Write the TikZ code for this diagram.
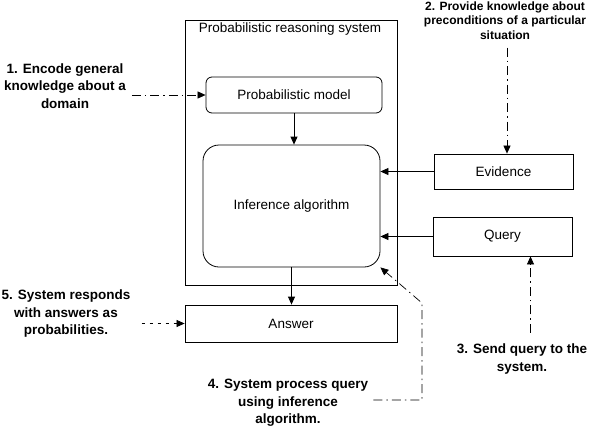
\documentclass[tikz,border=0pt]{standalone}
\usepackage{fontspec}
\setmainfont{Liberation Sans}
\usetikzlibrary{arrows.meta, positioning, calc}

\begin{document}
\begin{tikzpicture}[
    x=1pt, y=-1pt,
    box/.style={rectangle, draw, line width=0.8pt, align=center, inner sep=0pt, font=\fontsize{13.5}{15}\selectfont},
    rbox/.style={box, rounded corners=#1},
    note/.style={align=center, inner sep=3pt, font=\fontsize{13.5}{17.5}\selectfont\bfseries},
    arrow/.style={-{Triangle[length=8pt, width=7pt]}, line width=0.8pt},
    hint/.style={arrow, dash pattern=on 9pt off 4pt on 1.5pt off 4pt, line width=0.7pt},
    hintdash/.style={arrow, dash pattern=on 3pt off 5pt, line width=0.7pt}
]
\useasboundingbox (0,0) rectangle (601,426);

% Nodes
\node[box, minimum width=212pt, minimum height=265pt] (sys) at (291,152.5) {};
\node[font=\fontsize{13.5}{15}\selectfont, inner sep=0pt] (systitle) at (290,29) {Probabilistic reasoning system};
\node[rbox=6pt, minimum width=176pt, minimum height=36pt] (model) at (294,95) {Probabilistic model};
\node[rbox=16pt, minimum width=177pt, minimum height=122pt] (infer) at (291.5,206) {Inference algorithm};
\node[box, minimum width=139pt, minimum height=35pt] (evid) at (503.5,171.5) {Evidence};
\node[box, minimum width=139pt, minimum height=39pt] (query) at (502.5,236.5) {Query};
\node[box, minimum width=212pt, minimum height=37pt] (answer) at (291,323.5) {Answer};

% Notes
\node[note] (n1) at (65,86) {1. Encode general\\knowledge about a\\domain};
\node[note, font=\fontsize{12}{14.5}\selectfont\bfseries] (n2) at (505,20.5) {2. Provide knowledge about\\preconditions of a particular\\situation};
\node[note] (n3) at (522,359) {3. Send query to the\\system.};
\node[note] (n4) at (288,403) {4. System process query\\using inference\\algorithm.};
\node[note] (n5) at (66,314) {5. System responds\\with answers as\\probabilities.};

\coordinate (qin) at ($(query.south)+(28,0)$);
\coordinate (bend) at (422,303);

% Arrows
\draw[arrow] (model.south) -- (model.south |- infer.north);
\draw[arrow] (evid.west) -- (evid.west -| infer.east);
\draw[arrow] (query.west) -- (query.west -| infer.east);
\draw[arrow] (infer.south) -- (infer.south |- answer.north);

\draw[hint] ($(n1.east |- model.west)+(3,0)$) -- (model.west);
\draw[hint] ($(n2.south -| evid.north)+(3.5,5)$) -- ($(evid.north)+(3.5,0)$);
\draw[hint] ($(n3.north -| qin)+(0,-8)$) -- (qin);
\draw[hint] ($(n4.east)+(2,-3)$) -| (bend) -- (infer.south east);
\draw[hintdash] ($(n5.east |- answer.west)+(8,0)$) -- (answer.west);

\end{tikzpicture}
\end{document}
